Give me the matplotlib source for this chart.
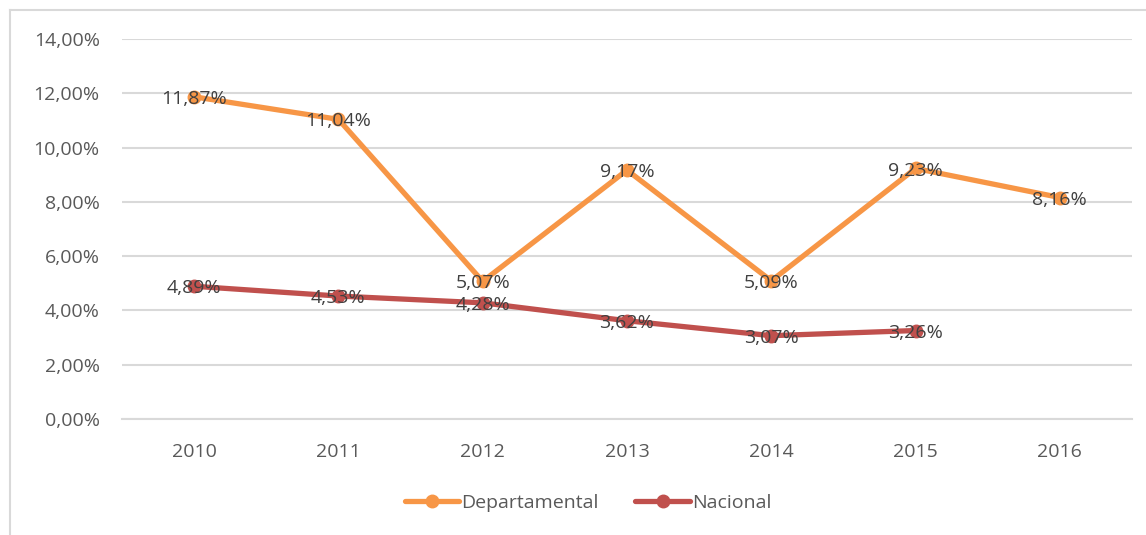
import matplotlib
matplotlib.use('Agg')
import matplotlib.pyplot as plt
from matplotlib.lines import Line2D

years = ['2010', '2011', '2012', '2013', '2014', '2015', '2016']
departamental = [11.87, 11.04, 5.07, 9.17, 5.09, 9.23, 8.16]
nacional = [4.89, 4.53, 4.28, 3.62, 3.07, 3.26]
y_ticks = [0, 2, 4, 6, 8, 10, 12, 14]

orange = '#F79646'
red = '#C0504D'
grey_txt = '#595959'
lbl_txt = '#404040'
grid_c = '#D9D9D9'

plt.rcParams['font.family'] = ['Open Sans', 'DejaVu Sans']

fig = plt.figure(figsize=(11.46, 5.35), dpi=100)
ax = fig.add_axes([122 / 1146, 1 - 419 / 535, (1132 - 122) / 1146, 380 / 535])

# chart border (top and left visible)
fig.add_artist(Line2D([10 / 1146, 10 / 1146], [0, 1 - 10 / 535], color=grid_c, lw=1.5,
                      transform=fig.transFigure))
fig.add_artist(Line2D([10 / 1146, 1], [1 - 10 / 535, 1 - 10 / 535], color=grid_c, lw=1.5,
                      transform=fig.transFigure))

xd = list(range(len(departamental)))
xn = list(range(len(nacional)))
ax.plot(xd, departamental, color=orange, lw=3.8, marker='o', ms=9,
        solid_capstyle='round', label='Departamental', zorder=3)
ax.plot(xn, nacional, color=red, lw=3.8, marker='o', ms=9,
        solid_capstyle='round', label='Nacional', zorder=3)

fs = 14
for x, v in zip(xd, departamental):
    ax.annotate(f'{v:.2f}%'.replace('.', ','), (x, v), xytext=(0, -1.5),
                textcoords='offset points', ha='center', va='center',
                fontsize=fs, color=lbl_txt, zorder=4)
for x, v in zip(xn, nacional):
    ax.annotate(f'{v:.2f}%'.replace('.', ','), (x, v), xytext=(0, -1.5),
                textcoords='offset points', ha='center', va='center',
                fontsize=fs, color=lbl_txt, zorder=4)

ax.set_xlim(-0.5, len(years) - 0.5)
ax.set_ylim(0, 14)
ax.set_yticks(y_ticks)
ax.set_yticklabels([f'{t:.2f}%'.replace('.', ',') for t in y_ticks])
ax.set_xticks(range(len(years)))
ax.set_xticklabels(years)
ax.tick_params(axis='both', length=0, colors=grey_txt, labelsize=fs)
ax.tick_params(axis='y', pad=16)
ax.tick_params(axis='x', pad=17)
ax.grid(axis='y', color=grid_c, lw=1.5)
ax.set_axisbelow(True)
for s in ['top', 'right', 'left']:
    ax.spines[s].set_visible(False)
ax.spines['bottom'].set_color(grid_c)
ax.spines['bottom'].set_linewidth(1.5)

leg = fig.legend(loc='center', bbox_to_anchor=(0.513, 1 - 503 / 535), ncol=2,
                 frameon=False, fontsize=fs, handlelength=2.8, handletextpad=0.1,
                 columnspacing=1.9)
for t in leg.get_texts():
    t.set_color(grey_txt)

fig.savefig('out.png', dpi=100)
